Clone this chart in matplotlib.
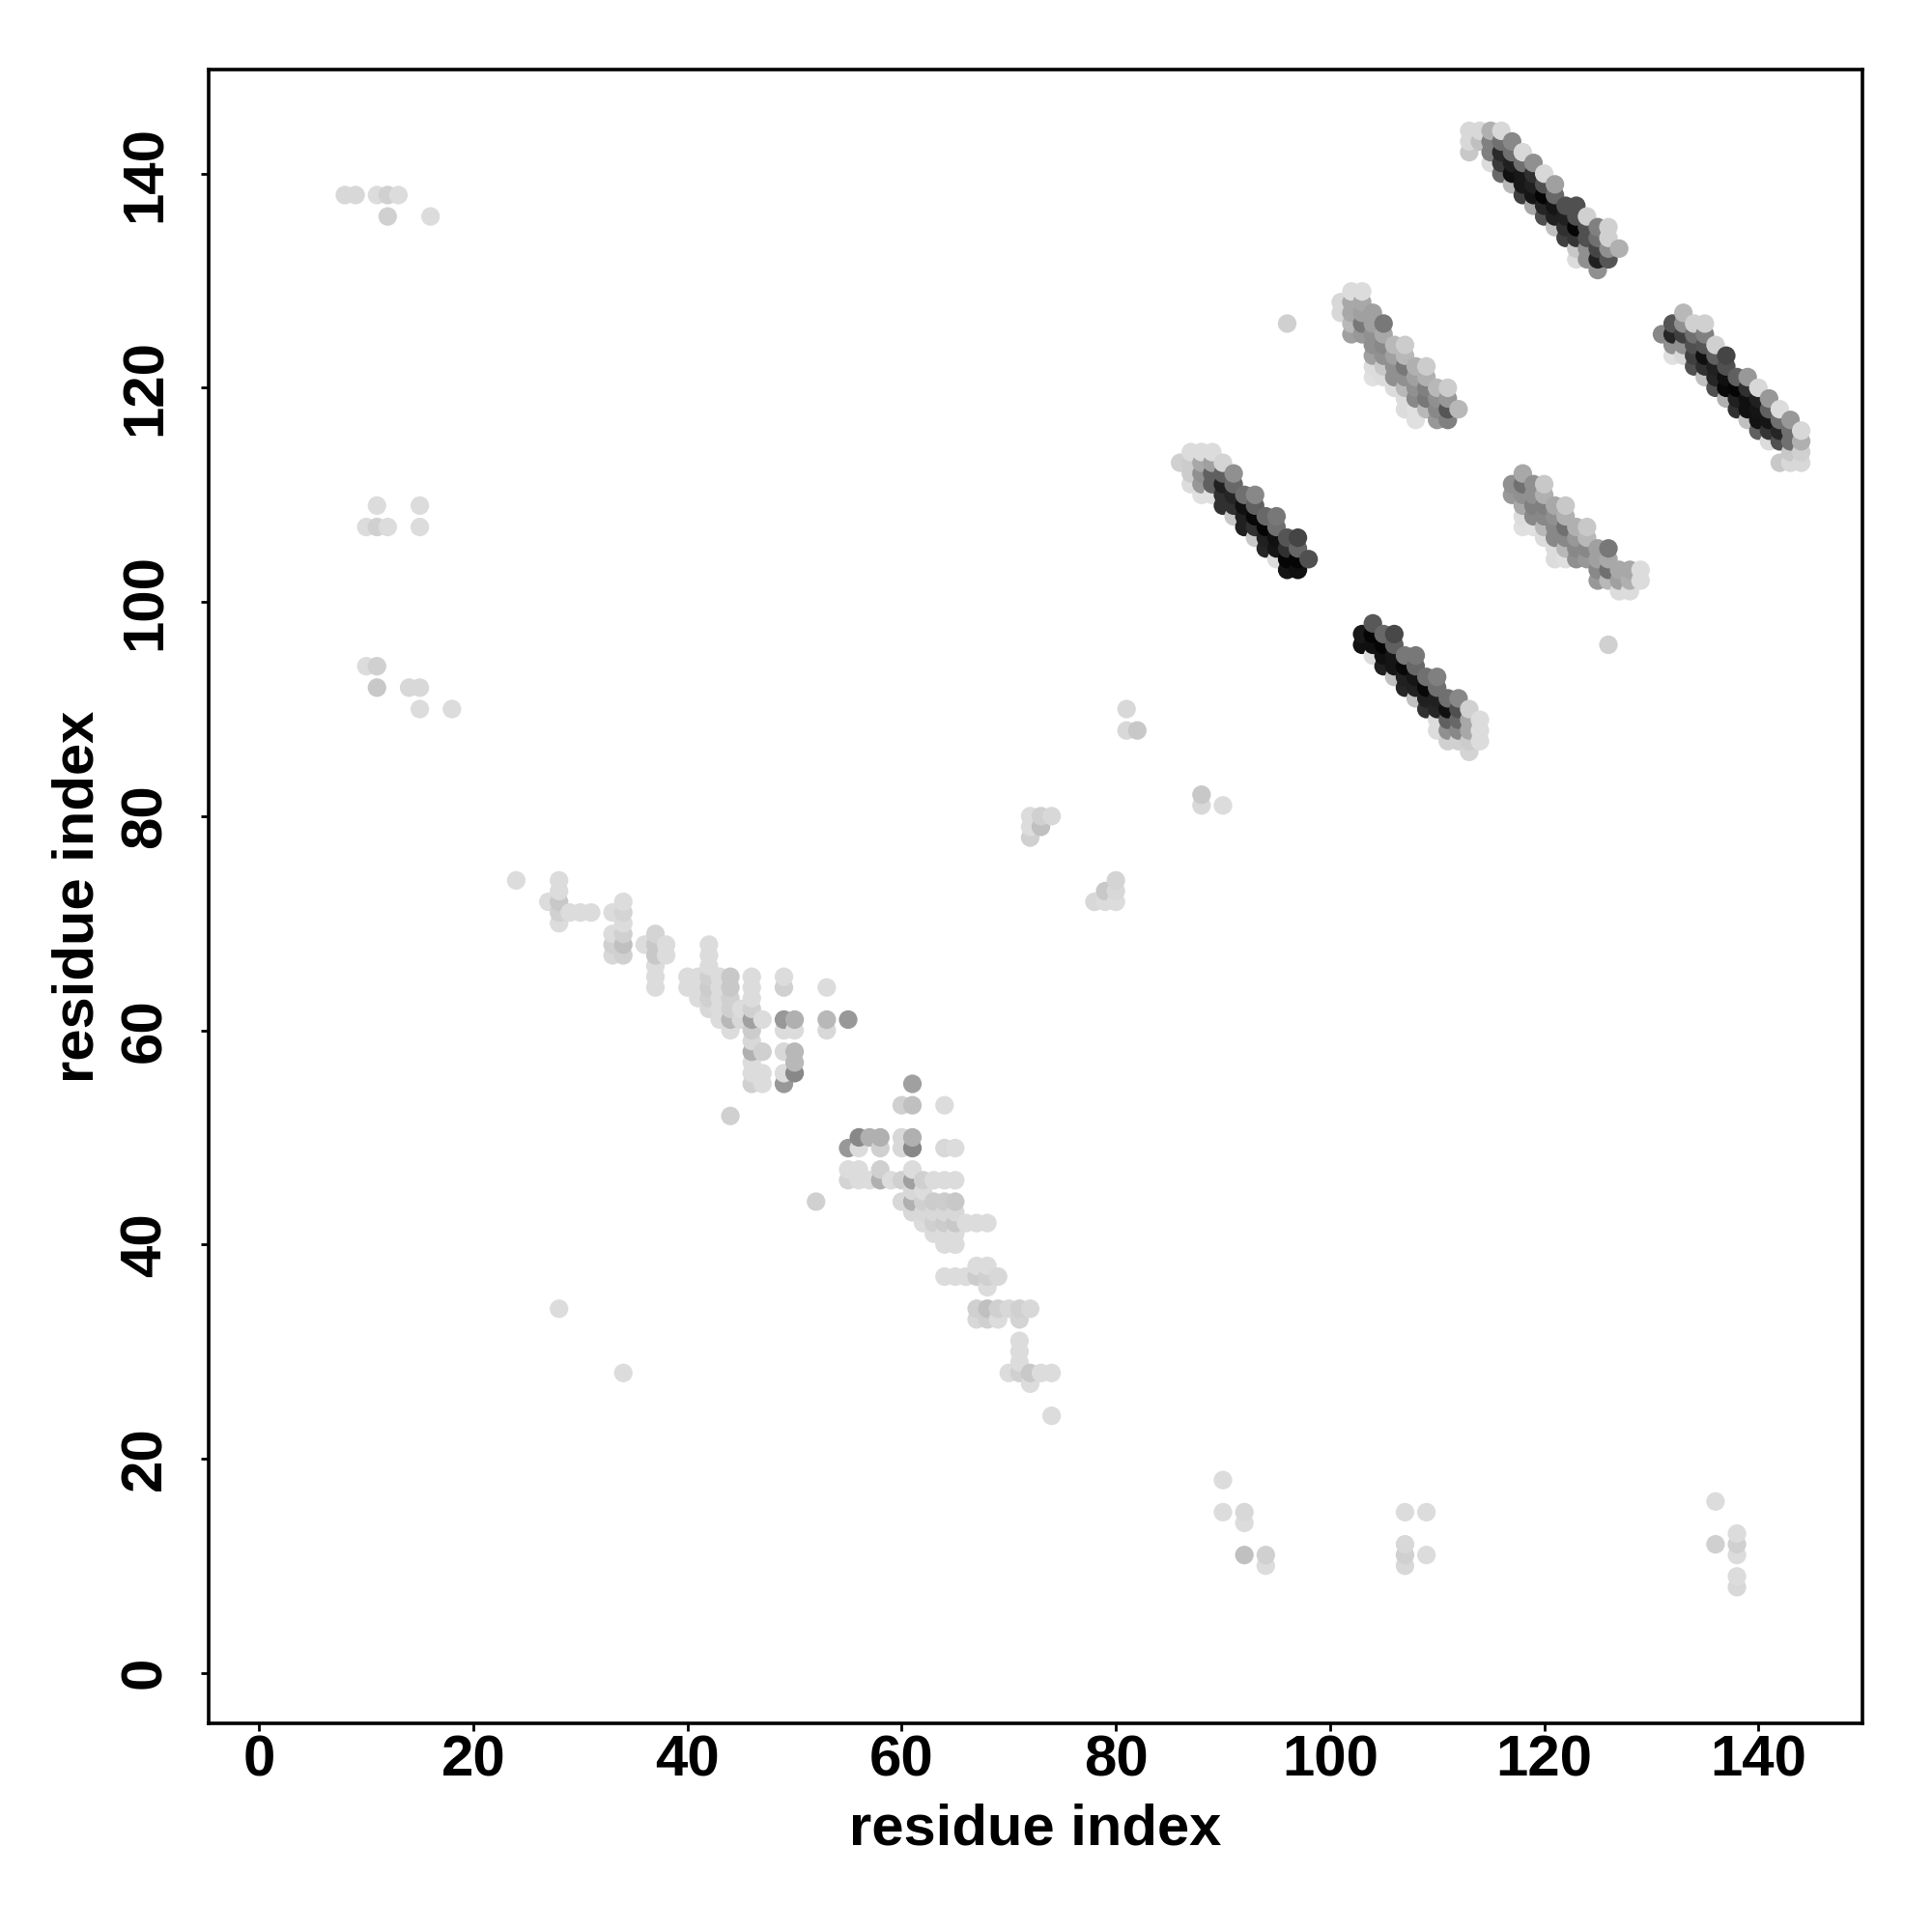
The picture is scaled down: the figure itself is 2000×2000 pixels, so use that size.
import numpy as np
import matplotlib
matplotlib.use('Agg')
import matplotlib.pyplot as plt

plt.rcParams['font.family'] = ['Liberation Sans', 'DejaVu Sans']
plt.rcParams['font.weight'] = 'bold'

# contacts: residue i, residue j, grey level 0-255
band1_x = [113,113,113, 114,114, 115,115,115,115, 116,116,116,116,116, 117,117,117,117,117,
           118,118,118,118,118, 119,119,119,119,119, 120,120,120,120,120, 121,121,121,121,121,
           122,122,122,122, 123,123,123,123,123,123, 124,124,124,124,124, 125,125,125,125,125,
           126,126,126,126, 127]
band1_y = [144,143,142, 144,143, 144,143,142,141, 144,143,142,141,140, 143,142,141,140,139,
           142,141,140,139,138, 141,140,139,138,137, 140,139,138,137,136, 139,138,137,136,135,
           137,136,135,134, 137,136,135,134,133,132, 136,135,134,133,132, 135,134,133,132,131,
           135,134,133,132, 133]
band1_g = [216,216,200, 216,192, 176,128,128,220, 216,112,42,58,106, 136,112,32,16,184,
           216,112,24,24,64, 144,48,32,21,168, 216,80,5,37,80, 160,104,21,32,192,
           80,32,48,64, 80,80,5,53,200,220, 208,80,80,144,144, 128,112,69,32,144,
           208,208,144,85, 176]

band2_x = [131, 132,132,132,132, 133,133,133,133,133, 134,134,134,134,134, 135,135,135,135,135,135,
           136,136,136,136,136, 137,137,137,137,137, 138,138,138,138, 139,139,139,139,139,
           140,140,140,140,140, 141,141,141,141,141, 142,142,142,142,142,
           143,143,143,143,143, 144,144,144,144]
band2_y = [125, 126,125,124,123, 127,126,125,124,123, 126,125,124,123,122, 126,125,124,123,122,121,
           124,123,122,121,120, 123,122,121,120,119, 121,120,119,118, 121,120,119,118,117,
           120,119,118,117,116, 119,118,117,116,115, 118,117,116,115,113,
           117,116,115,114,113, 116,115,114,113]
band2_g = [136, 85,37,144,224, 184,144,64,144,216, 208,112,80,64,80, 208,128,85,16,48,192,
           208,96,32,37,80, 69,80,16,8,176, 96,5,32,48, 152,48,16,16,192,
           216,32,21,18,96, 152,96,21,53,220, 220,112,37,80,200,
           152,112,112,200,216, 216,176,208,216]

band3_x = [86, 87,87,87,87, 88,88,88,88,88, 89,89,89,89,89, 90,90,90,90,90, 91,91,91,91,91,
           92,92,92,92, 93,93,93,93,93, 94,94,94,94, 95,95,95,95,95, 96,96,96,96, 97,97,97,97, 98]
band3_y = [113, 114,113,112,111, 114,113,112,111,110, 114,113,112,111,110, 113,112,111,110,109, 112,111,110,109,108,
           110,109,108,107, 110,109,108,107,106, 108,107,106,105, 108,107,106,105,104, 106,105,104,103, 106,105,104,103, 104]
band3_g = [208, 220,204,204,220, 220,168,144,152,224, 220,160,96,96,224, 212,96,32,48,48, 144,104,37,48,200,
           112,16,32,32, 136,96,8,48,200, 104,5,32,37, 120,112,16,21,220, 85,48,5,21, 69,101,5,16, 80]

band4_x = [101,101, 102,102,102,102,102, 103,103,103,103,103, 104,104,104,104,104,104,104,
           105,105,105,105,105,105, 106,106,106,106,106, 107,107,107,107,107,107,107,
           108,108,108,108,108,108, 109,109,109,109,109, 110,110,110,110, 111,111,111,111, 112]
band4_y = [128,127, 129,128,127,126,125, 129,128,127,126,125, 127,126,125,124,123,122,121,
           126,125,124,123,122,121, 124,123,122,121,120, 124,123,122,121,120,119,118,
           122,121,120,119,118,117, 122,121,120,119,118, 120,119,118,117, 120,119,118,117, 118]
band4_g = [216,216, 220,168,168,184,160, 220,168,160,120,152, 160,160,144,144,160,220,224,
           120,168,136,144,200,220, 184,160,144,144,220, 204,184,120,144,184,220,220,
           176,160,144,136,224,224, 204,176,128,120,184, 184,144,136,152, 204,152,85,128, 184]

band5_x = [103,103, 104,104,104,104, 105,105,105,105, 106,106,106,106,106, 107,107,107,107,
           108,108,108,108,108, 109,109,109,109, 110,110,110,110,110,110, 111,111,111,111,111,
           112,112,112,112,112, 113,113,113,113,113, 114,114,114]
band5_y = [97,96, 98,97,96,95, 97,96,95,94, 97,96,95,94,93, 95,94,93,92,
           95,94,93,92,91, 93,92,91,90, 93,92,91,90,89,88, 91,90,89,88,87,
           91,90,89,88,87, 90,89,88,87,86, 89,88,87]
band5_g = [24,16, 88,5,16,220, 104,5,16,32, 72,96,21,21,192, 120,8,32,37,
           120,104,21,32,192, 112,8,32,48, 128,112,32,37,220,220, 112,16,96,144,208,
           136,80,104,136,208, 208,168,168,204,212, 220,220,220]

band6_x = [117,117, 118,118,118,118,118,118, 119,119,119,119,119, 120,120,120,120,120,120,
           121,121,121,121,121,121, 122,122,122,122,122,122, 123,123,123,123, 124,124,124,124,
           125,125,125,125, 126,126,126,126, 127,127,127, 128,128,128, 129,129]
band6_y = [111,110, 112,111,110,109,108,107, 111,110,109,108,107, 111,110,109,108,107,106,
           109,108,107,106,105,104, 109,108,107,106,105,104, 107,106,105,104, 107,106,105,104,
           105,104,103,102, 105,104,103,102, 103,102,101, 103,102,101, 103,102]
band6_g = [144,152, 168,112,144,168,220,224, 144,144,128,136,224, 200,176,128,136,184,220,
           168,144,136,136,220,220, 200,176,112,136,184,224, 176,152,136,144, 200,184,136,152,
           160,160,136,152, 120,168,112,184, 168,160,220, 168,176,220, 220,220]

lower_x = [24, 27, 28,28,28,28,28, 29, 30, 31, 33,33,33,33, 34,34,34,34,34,34, 36,
           37,37,37,37,37,37, 38,38, 40,40, 41,41,41, 42,42,42,42,42,42,42, 43,43,43,43,43,
           44,44,44,44,44,44,44, 45,45, 46,46,46,46,46,46,46,46,46,46,46, 47,47,47,47,
           49,49,49,49,49,49,49, 50,50,50,50,50, 53,53,53, 55]
lower_y = [74, 72, 74,73,72,71,70, 71, 71, 71, 71,69,68,67, 72,71,70,69,68,67, 68,
           69,68,67,66,65,64, 68,67, 65,64, 65,64,63, 68,67,66,65,64,63,62, 65,64,63,62,61,
           65,64,63,62,61,60,52, 62,61, 65,64,63,62,61,60,59,58,57,56,55, 61,58,56,55,
           65,64,61,60,58,56,55, 61,60,58,57,56, 64,61,60, 61]
lower_g = [220, 220, 220,220,200,208,220, 220, 220, 220, 220,220,208,216, 220,212,220,208,192,208, 220,
           212,200,200,220,220,220, 220,220, 220,220, 220,220,220, 220,220,220,208,204,208,216, 220,220,220,220,220,
           200,200,208,208,184,220,208, 220,216, 220,220,220,208,160,204,216,176,220,220,208, 220,208,220,220,
           220,208,152,220,216,220,152, 176,220,184,184,136, 220,184,216, 152]

middle_x = [52, 55,55,55, 56,56,56,56, 57,57, 58,58,58,58, 59, 60,60,60,60,60, 61,61,61,61,61,61,61,61,61,
            62,62,62,62,62, 63,63,63,63,63, 64,64,64,64,64,64,64,64, 65,65,65,65,65,65,65,65,
            66,66,66, 67,67,67,67,67, 68,68,68,68,68,68, 69,69,69, 70,70, 71,71,71,71,71,71,
            72,72,72, 73, 74,74]
middle_y = [44, 49,47,46, 50,49,47,46, 50,46, 50,49,47,46, 46, 53,50,49,46,44, 55,53,50,49,47,46,45,44,43,
            46,45,44,43,42, 46,44,43,42,41, 53,49,46,44,43,42,41,37, 49,46,44,43,42,41,40,37,
            42,37,37, 42,38,37,34,33, 42,38,37,36,34,33, 37,34,33, 34,28, 34,33,31,30,29,28,
            34,28,27, 28, 28,24]
middle_g = [208, 152,220,212, 136,220,220,220, 176,220, 176,208,208,176, 220, 208,216,216,208,216, 160,192,176,136,220,160,216,176,216,
            208,220,208,216,220, 220,204,216,208,220, 220,216,220,204,216,204,220,220, 220,220,200,216,200,220,220,220,
            220,220,220, 220,220,204,208,216, 220,220,208,220,192,208, 216,208,220, 216,220, 208,212,220,220,220,208,
            216,200,220, 220, 220,220]

far_x = [8,9,11,12,13,12,16, 11,15,10,11,12,15, 10,11,11,14,15,15,18, 28,34,
         72,72,72,73,73,74, 78,79,79,80,80,80, 81,81,82, 88,88,90, 96, 126,
         90,90,92,92,92,94,94, 107,107,107,107,109,109, 136,136,138,138,138,138,138, 64,65]
far_y = [138,138,138,138,138,136,136, 109,109,107,107,107,107, 94,94,92,92,92,90,90, 34,28,
         80,79,78,80,79,80, 72,73,72,74,73,72, 90,88,88, 82,81,81, 126, 96,
         18,15,15,14,11,11,10, 15,12,11,10,15,11, 16,12,13,12,11,9,8, 40,40]
far_g = [216,216,220,208,220,208,220, 220,220,220,208,220,220, 220,208,200,216,216,220,220, 220,220,
         220,220,208,208,192,216, 216,200,220,212,216,220, 216,216,200, 200,216,220, 208, 208,
         220,220,216,220,192,208,220, 220,216,208,216,220,220, 220,208,220,208,220,220,216, 220,220]

x = np.concatenate([band1_x, band2_x, band3_x, band4_x, band5_x, band6_x, lower_x, middle_x, far_x])
y = np.concatenate([band1_y, band2_y, band3_y, band4_y, band5_y, band6_y, lower_y, middle_y, far_y])
g = np.concatenate([band1_g, band2_g, band3_g, band4_g, band5_g, band6_g, lower_g, middle_g, far_g])

# points overlap in order of i then j
order = np.lexsort((y, x))
x, y, g = x[order], y[order], g[order]

fig = plt.figure(figsize=(10, 10), dpi=200)
ax = fig.add_axes([0.108, 0.108, 0.856, 0.856])
ax.scatter(x, y, c=np.repeat(g / 255, 3).reshape(-1, 3), s=48, linewidths=0, clip_on=False)

ax.set_xlim(-4.72, 149.72)
ax.set_ylim(-4.72, 149.72)
ax.set_xticks(range(0, 141, 20))
ax.set_yticks(range(0, 141, 20))
for s in ax.spines.values():
    s.set_linewidth(1.3)
ax.tick_params(axis='x', length=3, width=1.0, labelsize=21.6, pad=1)
ax.tick_params(axis='y', length=3, width=1.0, labelsize=21.6, pad=10.5, labelrotation=90)
for t in ax.get_yticklabels():
    t.set_va('center')

fig.text(0.536, 1 - 1894 / 2000, 'residue index', ha='center', va='center', fontsize=21.5, fontweight='bold')
fig.text(81 / 2000, 0.536, 'residue index', ha='center', va='center', rotation=90, fontsize=21.5, fontweight='bold')

fig.savefig('out.png', dpi=200)
